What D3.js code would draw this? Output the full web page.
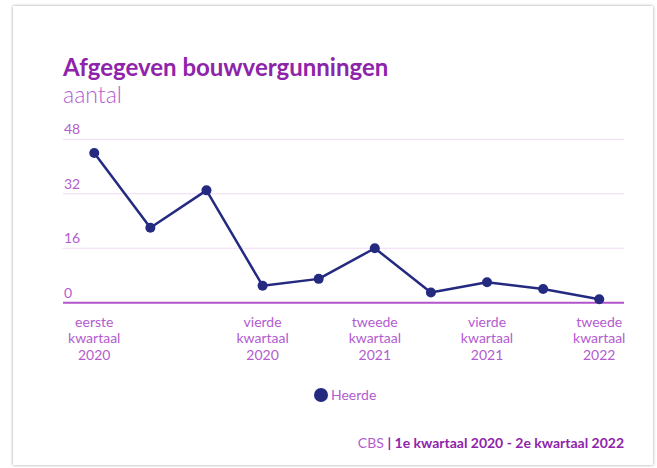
<!DOCTYPE html>
<html>
<head>
<meta charset="utf-8">
<script src="https://cdn.jsdelivr.net/npm/d3@7"></script>
<style>
  body { margin: 0; background: #fff; }
  svg { display: block; font-family: Lato, "Open Sans", sans-serif; }
</style>
</head>
<body>
<script>
const width = 657;
const height = 468;

// quarters Q1 2020 .. Q2 2022
const quarters = ["2020-1", "2020-2", "2020-3", "2020-4", "2021-1", "2021-2", "2021-3", "2021-4", "2022-1", "2022-2"];
const heerde = [44, 22, 33, 5, 7, 16, 3, 6, 4, 1];
const yTicks = [0, 16, 32, 48];
const xLabels = {
    "2020-1": ["eerste", "kwartaal", "2020"],
    "2020-4": ["vierde", "kwartaal", "2020"],
    "2021-2": ["tweede", "kwartaal", "2021"],
    "2021-4": ["vierde", "kwartaal", "2021"],
    "2022-2": ["tweede", "kwartaal", "2022"]
};

const purple = "#8e24aa";
const lightPurple = "#b35cd0";
const navy = "#232a80";

const svg = d3.select("body")
    .append("svg")
    .attr("width", width)
    .attr("height", height);

// card with shadow
const defs = svg.append("defs");
const filter = defs.append("filter").attr("id", "shadow")
    .attr("x", "-5%").attr("y", "-5%").attr("width", "110%").attr("height", "110%");
filter.append("feDropShadow")
    .attr("dx", 0).attr("dy", 0).attr("stdDeviation", 1.5)
    .attr("flood-color", "#000").attr("flood-opacity", 0.4);

svg.append("rect")
    .attr("x", 13).attr("y", 6)
    .attr("width", 640).attr("height", 459)
    .attr("fill", "#fff")
    .attr("filter", "url(#shadow)");

const x = d3.scaleBand()
    .domain(quarters)
    .range([66.2, 627.3]);

const y = d3.scaleLinear()
    .domain([0, 48])
    .range([302.7, 139.3]);

// gridlines
svg.append("g")
    .selectAll("line")
    .data(yTicks.filter(d => d > 0))
    .join("line")
    .attr("x1", 63).attr("x2", 624)
    .attr("y1", d => y(d)).attr("y2", d => y(d))
    .attr("stroke", "#f1d9f6")
    .attr("stroke-width", 1);

// baseline
svg.append("line")
    .attr("x1", 63).attr("x2", 624)
    .attr("y1", y(0)).attr("y2", y(0))
    .attr("stroke", "#b255cc")
    .attr("stroke-width", 2);

// y tick labels
svg.append("g")
    .selectAll("text")
    .data(yTicks)
    .join("text")
    .attr("x", 64)
    .attr("y", d => y(d) - 5)
    .attr("fill", lightPurple)
    .attr("font-size", 14)
    .text(d => d);

// x labels
const xl = svg.append("g")
    .selectAll("text")
    .data(quarters.filter(q => xLabels[q]))
    .join("text")
    .attr("text-anchor", "middle")
    .attr("fill", lightPurple)
    .attr("font-size", 14);
xl.selectAll("tspan")
    .data(q => xLabels[q].map(t => ({ q: q, t: t })))
    .join("tspan")
    .attr("x", d => x(d.q) + x.bandwidth() / 2)
    .attr("y", (d, i) => 327 + i * 16.3)
    .text(d => d.t);

// line
const line = d3.line()
    .x((d, i) => x(quarters[i]) + x.bandwidth() / 2)
    .y(d => y(d));

svg.append("path")
    .datum(heerde)
    .attr("d", line)
    .attr("fill", "none")
    .attr("stroke", navy)
    .attr("stroke-width", 2.5)
    .attr("stroke-linejoin", "round");

svg.append("g")
    .selectAll("circle")
    .data(heerde)
    .join("circle")
    .attr("cx", (d, i) => x(quarters[i]) + x.bandwidth() / 2)
    .attr("cy", d => y(d))
    .attr("r", 5)
    .attr("fill", navy);

// title
svg.append("text")
    .attr("x", 63).attr("y", 76)
    .attr("fill", purple)
    .attr("font-size", 24)
    .attr("font-weight", "bold")
    .text("Afgegeven bouwvergunningen");

svg.append("text")
    .attr("x", 63).attr("y", 103)
    .attr("fill", lightPurple)
    .attr("font-size", 23)
    .attr("font-weight", 300)
    .text("aantal");

// legend
svg.append("circle")
    .attr("cx", 321).attr("cy", 395)
    .attr("r", 7)
    .attr("fill", navy);
svg.append("text")
    .attr("x", 331).attr("y", 400)
    .attr("fill", lightPurple)
    .attr("font-size", 14)
    .text("Heerde");

// footer
const foot = svg.append("text")
    .attr("x", 624).attr("y", 448)
    .attr("text-anchor", "end")
    .attr("font-size", 14);
foot.append("tspan")
    .attr("fill", lightPurple)
    .text("CBS ");
foot.append("tspan")
    .attr("fill", purple)
    .attr("font-weight", "bold")
    .text("| 1e kwartaal 2020 - 2e kwartaal 2022");
</script>
</body>
</html>
